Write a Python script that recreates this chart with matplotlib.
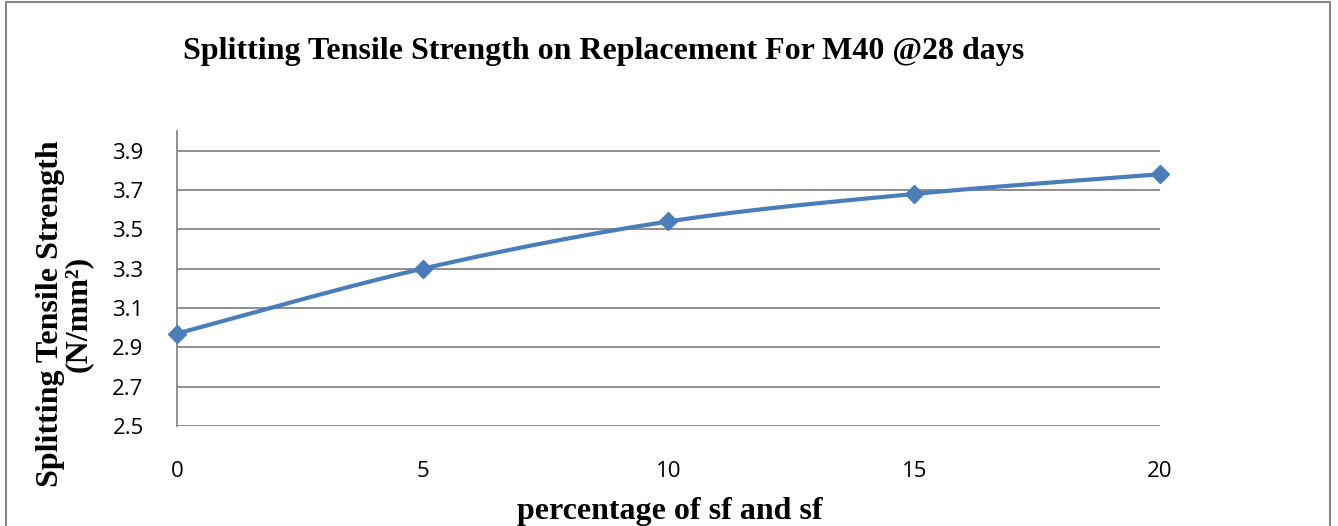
import matplotlib.pyplot as plt
import matplotlib.patches as patches
import numpy as np

# replacement percentage and 28-day splitting tensile strength (N/mm2)
percent = [0, 5, 10, 15, 20]
strength = [2.97, 3.30, 3.54, 3.68, 3.78]
y_ticks = [2.5, 2.7, 2.9, 3.1, 3.3, 3.5, 3.7, 3.9]

LINE_BLUE = '#4A7EBB'
GRID_GREY = '#868686'


def smooth_curve(xs, ys, steps=40):
    '''
    Bezier smoothing through every point (spreadsheet style smoothed line)
    '''
    pts = np.column_stack([xs, ys]).astype(float)
    ext = np.vstack([pts[0], pts, pts[-1]])
    out = []
    for i in range(len(pts) - 1):
        p0, p1, p2, p3 = ext[i], ext[i + 1], ext[i + 2], ext[i + 3]
        c1 = p1 + (p2 - p0) / 6.0
        c2 = p2 - (p3 - p1) / 6.0
        t = np.linspace(0, 1, steps)[:, None]
        seg = ((1 - t) ** 3) * p1 + 3 * ((1 - t) ** 2) * t * c1 \
            + 3 * (1 - t) * t ** 2 * c2 + t ** 3 * p2
        out.append(seg if i == 0 else seg[1:])
    curve = np.vstack(out)
    return curve[:, 0], curve[:, 1]


fig = plt.figure(figsize=(13.38, 5.26), dpi=100)
ax = fig.add_axes([177 / 1338, 100 / 526, 983 / 1338, 295 / 526])

# grid lines for each tick
for v in y_ticks:
    ax.axhline(v, color=GRID_GREY, lw=1.3, zorder=1)

sx, sy = smooth_curve(percent, strength)
ax.plot(sx, sy, color=LINE_BLUE, lw=3.0, zorder=3, solid_capstyle='round')
ax.plot(percent, strength, linestyle='none', marker='D', markersize=9,
        color=LINE_BLUE, zorder=4, clip_on=False)

ax.set_xlim(0, 20)
ax.set_ylim(2.5, 4.0)
ax.set_xticks(percent)
ax.set_yticks(y_ticks)
ax.set_yticklabels([f'{v:.1f}' for v in y_ticks])
for lab in ax.get_xticklabels() + ax.get_yticklabels():
    lab.set_fontfamily('Open Sans')
    lab.set_fontsize(16)
ax.tick_params(axis='both', length=0)
ax.tick_params(axis='x', pad=25)
ax.tick_params(axis='y', pad=24)

for side in ['top', 'right', 'bottom']:
    ax.spines[side].set_visible(False)
ax.spines['left'].set_color(GRID_GREY)
ax.spines['left'].set_linewidth(1.3)

fig.text(604 / 1338, 1 - 52 / 526,
         'Splitting Tensile Strength on Replacement For M40 @28 days',
         ha='center', va='center', fontsize=23, fontweight='bold',
         fontfamily='Liberation Serif')
fig.text(670 / 1338, 1 - 511 / 526, 'percentage of sf and sf',
         ha='center', va='center', fontsize=23, fontweight='bold',
         fontfamily='Liberation Serif')
fig.text(64 / 1338, 1 - 314 / 526, 'Splitting Tensile Strength\n(N/mm²)',
         ha='center', va='center', rotation=90, fontsize=23,
         fontweight='bold', fontfamily='Liberation Serif', linespacing=0.95)

# chart frame
frame = patches.Rectangle((6 / 1338, -0.1), 1324 / 1338, 1.1 - 2 / 526,
                          transform=fig.transFigure, fill=False,
                          edgecolor='#888888', lw=1.5, clip_on=False)
fig.patches.append(frame)

fig.savefig('out.png', dpi=100)
